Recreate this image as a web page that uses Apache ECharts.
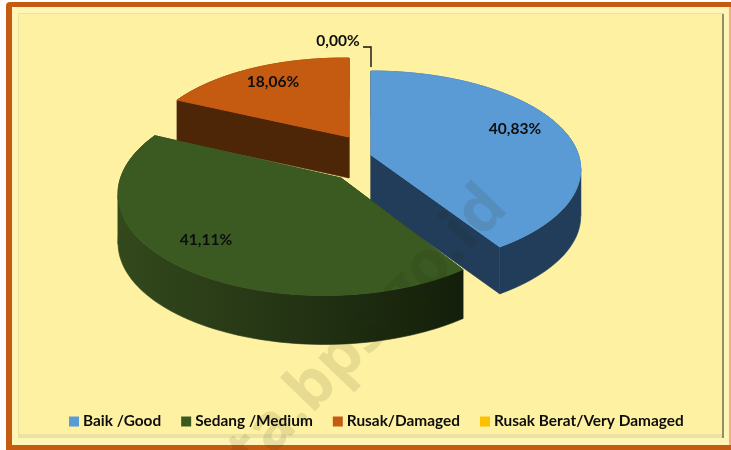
<!DOCTYPE html>
<html>
<head>
<meta charset="utf-8">
<script src="https://cdn.jsdelivr.net/npm/echarts@6/dist/echarts.min.js"></script>
<style>
  html, body { margin: 0; padding: 0; background: #fff; }
  #chart { width: 731px; height: 450px; }
</style>
</head>
<body>
<div id="chart"></div>
<script>
const categories = ['Baik /Good', 'Sedang /Medium', 'Rusak/Damaged', 'Rusak Berat/Very Damaged'];
const values = [40.83, 41.11, 18.06, 0.00];
const colors = ['#5b9bd5', '#3a5a22', '#c55a11', '#ffc000'];

// exploded 3d look: each slice has its own apex, stretch and keystone
const poses = [
  { ax: 371, ay: 155, sx: 1, sy: 1, tilt: 0, depth: 47, z: 3, wall: ['#213d5a', '#213d5a'], label: [515, 129] },
  { ax: 341, ay: 178, sx: 0.988, sy: 1.04, tilt: 0.07, depth: 49, z: 4, wall: ['#33491c', '#141f0b'], label: [206, 240] },
  { ax: 349, ay: 137, sx: 0.945, sy: 0.94, tilt: 0.03, depth: 41, z: 2, wall: ['#4d2507', '#4d2507'], label: [273, 82] },
  { ax: 371, ay: 155, sx: 1, sy: 1, tilt: 0, depth: 0, z: 2, wall: ['#000000', '#000000'], label: [338, 41] }
];
const radiusX = 207.5, radiusY = 96.2, persp = 0.1456;

const total = values.reduce((a, b) => a + b, 0);

function project(pose, deg) {
  let t = deg * Math.PI / 180;
  let X = Math.sin(t), Y = -Math.cos(t);
  let d = 1 - persp * Y + pose.tilt * X;
  return [pose.ax + pose.sx * radiusX * X / d, pose.ay + pose.sy * radiusY * Y / d];
}

// cut the arc where it turns back in x, a folded band would leave a hole when filled
function monotonicRuns(arc) {
  let runs = [[arc[0]]];
  let dir = 0;
  for (let i = 1; i < arc.length; i++) {
    let d = Math.sign(arc[i][0] - arc[i - 1][0]);
    if (dir && d && d !== dir) runs.push([arc[i - 1]]);
    if (d) dir = d;
    runs[runs.length - 1].push(arc[i]);
  }
  return runs;
}

function makeRender(idx) {
  return function () {
    let pose = poses[idx];
    let start = 0;
    for (let i = 0; i < idx; i++) start += values[i] / total * 360;
    let end = start + values[idx] / total * 360;
    let children = [];
    if (values[idx] > 0) {
      let arc = [];
      for (let a = start; a < end; a += 2) arc.push(project(pose, a));
      arc.push(project(pose, end));
      let apex = [pose.ax, pose.ay];
      let drop = p => [p[0], p[1] + pose.depth];
      let xs = arc.map(p => p[0]).concat(pose.ax);
      let wallFill = new echarts.graphic.LinearGradient(Math.min(...xs), 0, Math.max(...xs), 0, [
        { offset: 0, color: pose.wall[0] },
        { offset: 1, color: pose.wall[1] }
      ], true);
      let bands = monotonicRuns(arc).map(run => run.concat(run.map(drop).reverse()));
      bands.push([apex, arc[0], drop(arc[0]), drop(apex)]);
      bands.push([apex, arc[arc.length - 1], drop(arc[arc.length - 1]), drop(apex)]);
      bands.forEach(points => {
        children.push({ type: 'polygon', shape: { points: points }, style: { fill: wallFill, stroke: wallFill, lineWidth: 0.6 } });
      });
      children.push({ type: 'polygon', shape: { points: [apex].concat(arc) }, style: { fill: colors[idx], stroke: colors[idx], lineWidth: 1 } });
    } else {
      children.push({
        type: 'polyline',
        shape: { points: [[363, 47], [371, 47], [371, 67]] },
        style: { stroke: '#111', lineWidth: 1.4, fill: 'none' }
      });
    }
    children.push({
      type: 'text',
      style: {
        x: pose.label[0], y: pose.label[1],
        text: values[idx].toFixed(2).replace('.', ',') + '%',
        fill: '#0d0d0d', font: 'bold 15.5px Lato',
        align: 'center', verticalAlign: 'middle'
      }
    });
    return { type: 'group', children: children };
  };
}

let chart = echarts.init(document.getElementById('chart'), null, { renderer: 'canvas' });
chart.setOption({
  animation: false,
  backgroundColor: '#ffffff',
  graphic: [
    { type: 'rect', z: 0, shape: { x: 6, y: 2, width: 725, height: 448, r: [4, 0, 0, 0] }, style: { fill: '#c55a11' } },
    { type: 'rect', z: 0, shape: { x: 729, y: 7, width: 2, height: 438 }, style: { fill: '#f2b27a' } },
    { type: 'rect', z: 0, shape: { x: 12, y: 7, width: 717, height: 438 }, style: { fill: '#fff5b6' } },
    { type: 'rect', z: 0, shape: { x: 18, y: 13, width: 706, height: 425 }, style: { fill: '#ece2a0' } },
    { type: 'rect', z: 0, shape: { x: 19, y: 14, width: 703, height: 420 }, style: { fill: '#fef2a2' } },
    { type: 'rect', z: 0, shape: { x: 722, y: 14, width: 2, height: 424 }, style: { fill: '#958d66' } },
    { type: 'text', z: 50, silent: true, rotation: 46 * Math.PI / 180, x: 368, y: 330,
      style: { text: 'ta.bps.go.id', font: 'bold 64px "Open Sans"', fill: 'rgba(40,35,0,0.11)', align: 'center', verticalAlign: 'middle' } }
  ],
  legend: {
    data: categories,
    left: 64, top: 409, z: 5,
    icon: 'rect', itemWidth: 10, itemHeight: 10, itemGap: 20,
    textStyle: { fontFamily: 'Lato', fontWeight: 'bold', fontSize: 15.4, color: '#0d0d0d', padding: [0, 0, 0, -1] }
  },
  series: categories.map((name, i) => ({
    type: 'custom',
    name: name,
    coordinateSystem: 'none',
    z: poses[i].z,
    itemStyle: { color: colors[i] },
    data: [values[i]],
    renderItem: makeRender(i)
  }))
});
</script>
</body>
</html>
